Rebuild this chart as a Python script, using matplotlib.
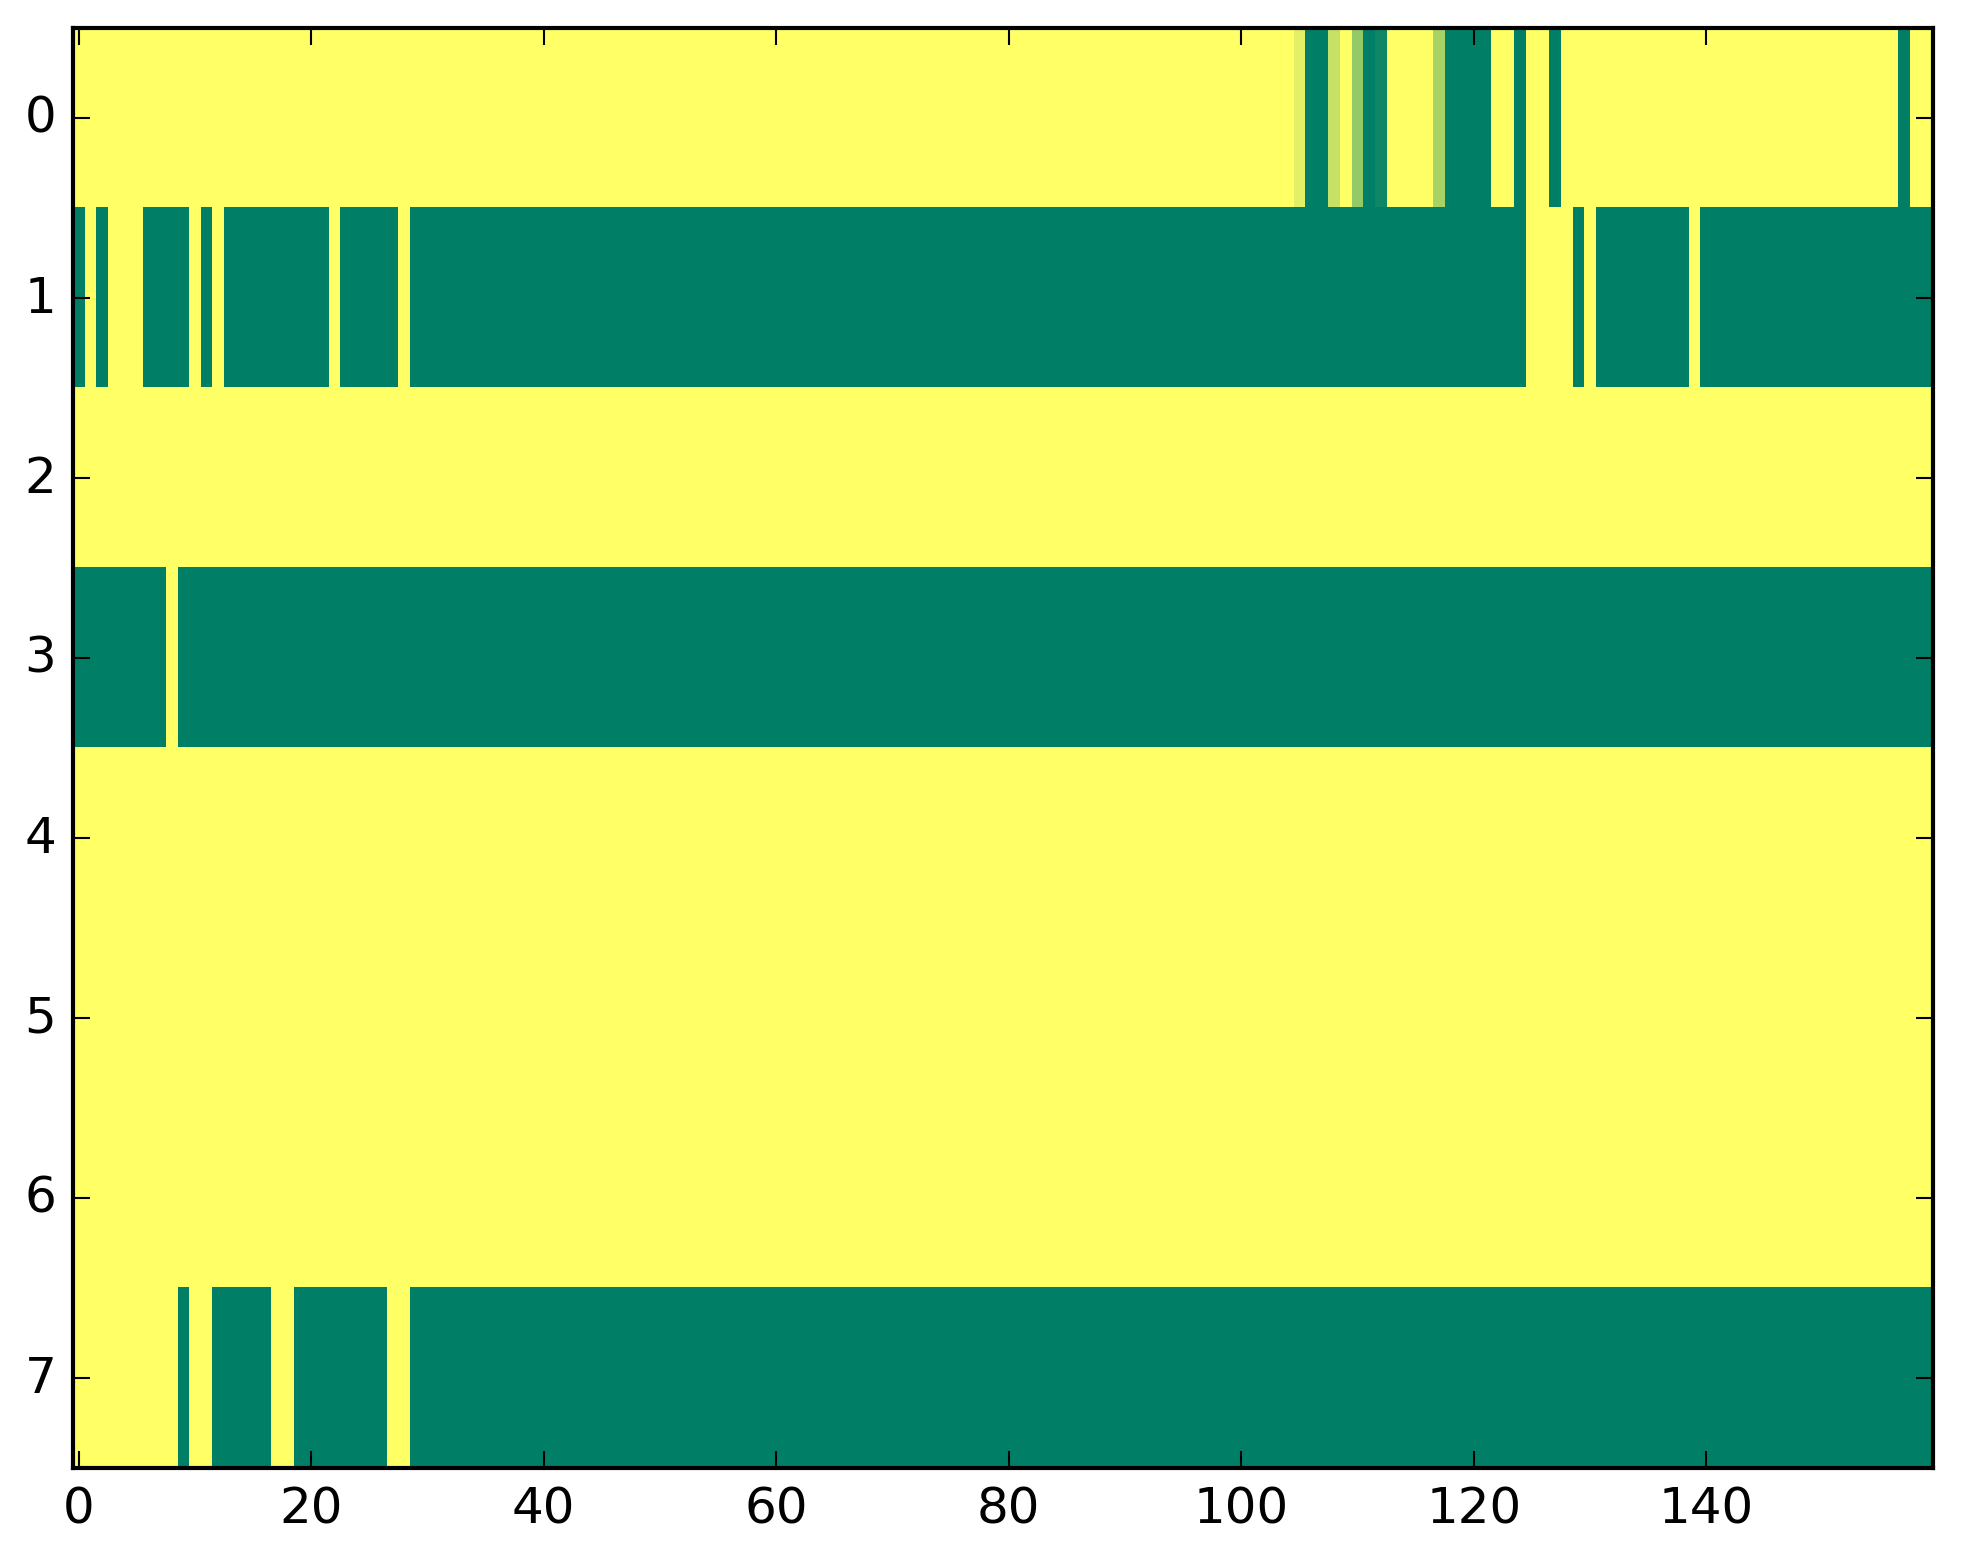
import numpy as np
import matplotlib
matplotlib.use("Agg")
from matplotlib import pyplot as plt

# grid size
n_rows = 8
n_cols = 160

# each row as runs of (first column, end column, value); 0 = green end, 1 = yellow end
row0_runs = [(0, 105, 1.0), (105, 106, 0.88), (106, 108, 0.0), (108, 109, 0.77),
             (109, 110, 1.0), (110, 111, 0.58), (111, 112, 0.0), (112, 113, 0.06),
             (113, 117, 1.0), (117, 118, 0.65), (118, 122, 0.0), (122, 124, 1.0),
             (124, 125, 0.0), (125, 127, 1.0), (127, 128, 0.0), (128, 157, 1.0),
             (157, 158, 0.0), (158, 160, 1.0)]
row1_runs = [(0, 1, 0.0), (1, 2, 1.0), (2, 3, 0.0), (3, 6, 1.0), (6, 10, 0.0),
             (10, 11, 1.0), (11, 12, 0.0), (12, 13, 1.0), (13, 22, 0.0), (22, 23, 1.0),
             (23, 28, 0.0), (28, 29, 1.0), (29, 125, 0.0), (125, 129, 1.0),
             (129, 130, 0.0), (130, 131, 1.0), (131, 139, 0.0), (139, 140, 1.0),
             (140, 160, 0.0)]
row2_runs = [(0, 160, 1.0)]
row3_runs = [(0, 8, 0.0), (8, 9, 1.0), (9, 160, 0.0)]
row4_runs = [(0, 160, 1.0)]
row5_runs = [(0, 160, 1.0)]
row6_runs = [(0, 160, 1.0)]
row7_runs = [(0, 9, 1.0), (9, 10, 0.0), (10, 12, 1.0), (12, 17, 0.0), (17, 19, 1.0),
             (19, 27, 0.0), (27, 29, 1.0), (29, 160, 0.0)]

all_runs = [row0_runs, row1_runs, row2_runs, row3_runs,
            row4_runs, row5_runs, row6_runs, row7_runs]

grid = np.ones((n_rows, n_cols))
for r, runs in enumerate(all_runs):
    for start, end, val in runs:
        grid[r, start:end] = val

xticks = [0, 20, 40, 60, 80, 100, 120, 140]
yticks = list(range(n_rows))

plt.style.use('classic')
plt.rcParams['font.family'] = ['DejaVu Sans']
plt.rcParams['font.size'] = 12

W, H = 1963, 1564
fig = plt.figure(figsize=(W / 300, H / 300), dpi=300, facecolor='white')
ax = fig.add_axes([73 / W, (H - 1468.5) / H, 1860 / W, 1439.5 / H])

ax.imshow(grid, cmap='summer', vmin=0, vmax=1, aspect='auto',
          interpolation='nearest')

ax.set_xticks(xticks)
ax.set_yticks(yticks)
ax.set_xlim(-0.5, n_cols - 0.5)
ax.set_ylim(n_rows - 0.5, -0.5)
ax.tick_params(direction='in', top=True, right=True, length=4, width=0.5,
               labelsize=12, pad=4)
for s in ax.spines.values():
    s.set_linewidth(1.0)

plt.savefig("out.png", dpi=300, facecolor='white')
